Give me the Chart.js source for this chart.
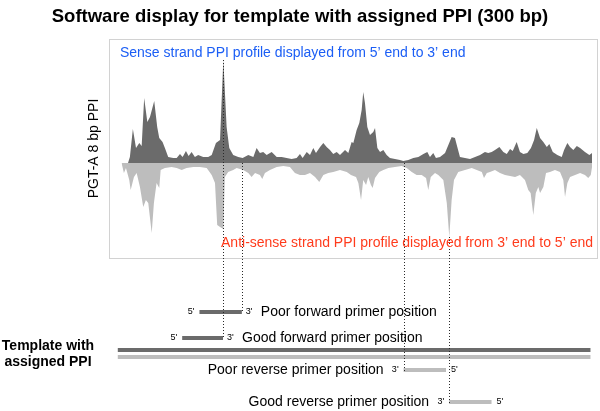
<!DOCTYPE html>
<html>
<head>
<meta charset="utf-8">
<script src="https://cdn.jsdelivr.net/npm/chart.js@4.4.1/dist/chart.umd.min.js"></script>
<style>
  html, body { margin: 0; padding: 0; background: #FFFFFF; }
  #wrap { width: 600px; height: 411px; }
</style>
</head>
<body>
<div id="wrap"><canvas id="chartPPI" width="600" height="411"></canvas></div>
<script>
/* ----------------------------------------------------------------------------
                                     DATA
---------------------------------------------------------------------------- */

// Sense strand PPI profile (position in bp, PPI) ------------------------------
var sensePos = [4.5, 5.7, 7.6, 9.6, 11.7, 13.2, 14.8, 16.8, 18.5, 21.2,
    23.1, 24.4, 26.5, 28.0, 30.1, 33.3, 35.5, 37.6, 39.3, 41.4,
    43.1, 45.0, 47.1, 49.2, 52.4, 55.6, 57.8, 60.5, 63.1, 65.2,
    67.3, 69.0, 71.5, 74.7, 77.5, 81.1, 84.3, 86.4, 88.5, 90.6,
    92.8, 96.0, 99.2, 102.4, 105.5, 108.7, 111.9, 114.0, 115.7, 118.3,
    120.4, 122.5, 124.2, 126.8, 128.9, 131.0, 133.1, 135.2, 137.4, 139.5,
    142.7, 144.8, 146.9, 148.0, 150.1, 151.8, 153.3, 154.3, 155.4, 156.9,
    158.6, 160.7, 161.8, 163.3, 165.0, 167.1, 169.2, 171.3, 174.5, 177.7,
    179.8, 183.0, 186.2, 189.4, 192.6, 195.1, 196.8, 198.9, 200.6, 203.2,
    206.4, 208.5, 210.6, 212.7, 214.2, 215.9, 219.1, 222.3, 225.5, 228.7,
    231.8, 233.9, 236.1, 238.2, 241.0, 243.5, 245.7, 247.8, 249.5, 252.0,
    254.1, 256.3, 258.8, 261.1, 263.1, 264.8, 266.9, 269.0, 271.2, 272.8,
    275.0, 277.9, 280.7, 282.2, 284.3, 286.0, 288.1, 290.3, 292.4, 295.5,
    298.3, 300];
var senseVal = [0, 6, 34, 15, 20, 17, 65, 41, 46, 62,
    36, 25, 21, 15, 6, 5, 5, 9, 6, 12,
    7, 11, 6, 8, 6, 6, 8, 20, 23, 103,
    36, 15, 8, 6, 5, 8, 6, 15, 10, 11,
    8, 11, 6, 6, 5, 4, 5, 9, 5, 11,
    8, 15, 10, 16, 20, 16, 13, 9, 11, 8,
    13, 10, 21, 20, 33, 40, 53, 71, 60, 36,
    28, 31, 35, 15, 11, 13, 8, 5, 4, 3,
    2, 3, 5, 6, 9, 11, 6, 10, 5, 6,
    10, 18, 26, 25, 16, 6, 5, 4, 6, 8,
    11, 10, 11, 13, 16, 11, 9, 14, 12, 21,
    11, 9, 10, 15, 23, 35, 25, 21, 16, 19,
    11, 8, 6, 13, 20, 16, 13, 17, 15, 11,
    8, 10];

// Anti-sense strand PPI profile (drawn downwards) ----------------------------
var antiPos = [0.4, 1.9, 3.2, 5.3, 6.2, 8.3, 10.0, 12.1, 14.2, 15.9,
    17.4, 19.6, 21.0, 22.7, 24.4, 25.3, 28.0, 32.3, 35.5, 38.7,
    41.8, 46.1, 50.3, 54.6, 57.8, 59.9, 61.3, 63.1, 65.2, 66.2,
    68.3, 71.5, 73.7, 77.9, 81.1, 83.2, 85.4, 88.5, 90.0, 91.7,
    94.9, 99.2, 103.4, 107.6, 110.8, 114.0, 117.2, 120.4, 123.6, 126.3,
    128.9, 132.0, 135.2, 139.5, 143.8, 146.5, 149.7, 151.2, 152.9, 154.3,
    156.1, 157.5, 159.2, 160.3, 161.8, 164.5, 167.1, 170.3, 174.5, 178.8,
    182.0, 185.2, 188.3, 191.5, 194.3, 195.7, 197.3, 200.0, 202.1, 205.3,
    207.5, 209.1, 210.6, 212.1, 214.8, 219.1, 223.4, 226.6, 229.8, 231.2,
    233.0, 235.0, 238.2, 241.4, 244.6, 247.8, 251.0, 254.1, 257.3, 259.4,
    260.9, 262.6, 264.2, 265.8, 266.9, 269.0, 270.7, 273.2, 276.4, 279.6,
    281.7, 282.8, 284.3, 286.0, 289.2, 292.4, 295.5, 297.6, 299.2, 300];
var antiVal = [0, 10, 5, 17, 27, 14, 10, 24, 44, 37,
    40, 70, 40, 20, 25, 7, 5, 4, 5, 7,
    5, 4, 4, 5, 12, 20, 62, 64, 66, 14,
    9, 7, 5, 7, 10, 14, 10, 12, 16, 10,
    7, 4, 3, 4, 10, 12, 12, 10, 14, 19,
    12, 10, 9, 7, 9, 12, 14, 20, 37, 17,
    22, 14, 22, 25, 15, 9, 7, 5, 4, 3,
    5, 9, 12, 12, 15, 27, 14, 10, 12, 17,
    40, 74, 37, 17, 9, 7, 5, 7, 9, 15,
    10, 9, 7, 10, 12, 13, 14, 12, 17, 27,
    30, 52, 30, 24, 30, 24, 10, 9, 7, 9,
    17, 34, 20, 14, 12, 10, 12, 15, 12, 4];

// Template and primers (bp) --------------------------------------------------
var templateSpan = [-2, 299];
var primerNames = Array('Poor forward primer position', 'Good forward primer position',
    'Poor reverse primer position', 'Good reverse primer position');
var primerStart = [50, 39, 180, 209];
var primerEnd = [77, 65, 207, 236];
var primerForward = [true, true, false, false];
// PPI level where the dotted guide to the primer's 3' end begins
var guideLevel = [0, 103, 0, -74];

/* ----------------------------------------------------------------------------
                                    LAYOUT
---------------------------------------------------------------------------- */

var colors = Array('#6b6b6b', '#bdbdbd', '#d2d2d2', '#1b5ef5', '#ff3b1c', '#000000', '#2a2a2a');
var fontFamily = '"Liberation Sans", Arial, Helvetica, sans-serif';
var boxBottom = -95;                 // lower edge of the profile frame (PPI units)
var primerLane = [-38, -12, 20, 52]; // lane offsets, template sense strand = 0
var templateLane = [0, 7];

/* ----------------------------------------------------------------------------
                                    MAIN
---------------------------------------------------------------------------- */

function xy(pos, val, sign) {
    var out = [];
    for (var i = 0; i < pos.length; i++) {
        out.push({ x: pos[i], y: sign * val[i] });
    }
    return out;
}

function segment(x0, x1, lane, color) {
    return {
        data: [{ x: x0, y: lane }, { x: x1, y: lane }],
        yAxisID: 'lane',
        borderColor: color,
        borderWidth: 4,
        borderCapStyle: 'butt',
        pointRadius: 0,
        fill: false
    };
}

var datasets = [
    {
        data: xy(sensePos, senseVal, 1),
        yAxisID: 'y',
        backgroundColor: colors[0],
        borderColor: colors[0],
        borderWidth: 0,
        pointRadius: 0,
        tension: 0,
        fill: 'origin'
    },
    {
        data: xy(antiPos, antiVal, -1),
        yAxisID: 'y',
        backgroundColor: colors[1],
        borderColor: colors[1],
        borderWidth: 0,
        pointRadius: 0,
        tension: 0,
        fill: 'origin'
    },
    segment(templateSpan[0], templateSpan[1], templateLane[0], colors[0]),
    segment(templateSpan[0], templateSpan[1], templateLane[1], colors[1])
];

for (var i = 0; i < primerNames.length; i++) {
    datasets.push(segment(primerStart[i], primerEnd[i], primerLane[i], primerForward[i] ? colors[0] : colors[1]));
}

function text(ctx, str, x, y, font, color, align) {
    ctx.font = font;
    ctx.fillStyle = color;
    ctx.textAlign = align;
    ctx.textBaseline = 'middle';
    ctx.fillText(str, x, y);
}

const annotations = {
    id: 'annotations',
    beforeDatasetsDraw(chart) {
        const ctx = chart.ctx;
        const area = chart.chartArea;
        const y = chart.scales.y;
        const bottom = Math.round(y.getPixelForValue(boxBottom)) + 0.5;
        const top = Math.round(area.top) + 0.5;
        ctx.save();
        ctx.strokeStyle = colors[2];
        ctx.lineWidth = 1;
        ctx.strokeRect(Math.round(area.left) + 0.5, top, Math.round(area.right - area.left) - 1, bottom - top);
        ctx.restore();
    },
    afterDatasetsDraw(chart) {
        const ctx = chart.ctx;
        const area = chart.chartArea;
        const x = chart.scales.x;
        const y = chart.scales.y;
        const lane = chart.scales.lane;
        ctx.save();

        // Dotted guides from the profile to each primer's 3' end
        ctx.strokeStyle = colors[6];
        ctx.lineWidth = 1;
        ctx.setLineDash([1, 2]);
        for (var i = 0; i < primerNames.length; i++) {
            var gx = Math.round(x.getPixelForValue(primerForward[i] ? primerEnd[i] : primerStart[i])) + 0.5;
            ctx.beginPath();
            ctx.moveTo(gx, y.getPixelForValue(guideLevel[i]));
            ctx.lineTo(gx, lane.getPixelForValue(primerLane[i]) + 1);
            ctx.stroke();
        }
        ctx.setLineDash([]);

        // Titles
        text(ctx, 'Software display for template with assigned PPI (300 bp)', 300, 17,
            'bold 18.5px ' + fontFamily, colors[5], 'center');
        text(ctx, 'Sense strand PPI profile displayed from 5\u2019 end to 3\u2019 end',
            x.getPixelForValue(0) - 1, 53, '14px ' + fontFamily, colors[3], 'left');
        text(ctx, 'Anti-sense strand PPI profile displayed from 3\u2019 end to 5\u2019 end',
            area.right - 5, 243, '14px ' + fontFamily, colors[4], 'right');

        ctx.save();
        ctx.translate(94, (area.top + y.getPixelForValue(boxBottom)) / 2);
        ctx.rotate(-Math.PI / 2);
        text(ctx, 'PGT-A 8 bp PPI', 0, 0, '14px ' + fontFamily, colors[5], 'center');
        ctx.restore();

        var ty = lane.getPixelForValue((templateLane[0] + templateLane[1]) / 2);
        text(ctx, 'Template with', 48, ty - 7, 'bold 14px ' + fontFamily, colors[5], 'center');
        text(ctx, 'assigned PPI', 48, ty + 9, 'bold 14px ' + fontFamily, colors[5], 'center');

        // Primer labels
        for (var j = 0; j < primerNames.length; j++) {
            var x0 = x.getPixelForValue(primerStart[j]);
            var x1 = x.getPixelForValue(primerEnd[j]);
            var py = lane.getPixelForValue(primerLane[j]);
            var small = '9px ' + fontFamily;
            if (primerForward[j]) {
                text(ctx, "5'", x0 - 5, py, small, colors[5], 'right');
                text(ctx, "3'", x1 + 4, py, small, colors[5], 'left');
                text(ctx, primerNames[j], x1 + 19, py, '14px ' + fontFamily, colors[5], 'left');
            } else {
                text(ctx, "3'", x0 - 5, py, small, colors[5], 'right');
                text(ctx, "5'", x1 + 5, py, small, colors[5], 'left');
                text(ctx, primerNames[j], x0 - 20, py, '14px ' + fontFamily, colors[5], 'right');
            }
        }
        ctx.restore();
    }
};

const ctx_ppi = document.getElementById('chartPPI').getContext('2d');
const chartPPI = new Chart(ctx_ppi, {
    type: 'line',
    data: { datasets: datasets },
    options: {
        responsive: false,
        animation: false,
        devicePixelRatio: 1,
        layout: {
            padding: { left: 109, right: 2, top: 39, bottom: 0 }
        },
        plugins: {
            legend: { display: false },
            tooltip: { enabled: false }
        },
        scales: {
            x: {
                type: 'linear',
                min: -7.6,
                max: 303.8,
                display: false
            },
            y: {
                type: 'linear',
                min: -248,
                max: 124,
                display: false
            },
            lane: {
                type: 'linear',
                position: 'left',
                reverse: true,
                min: -311,
                max: 61,
                display: false
            }
        }
    },
    plugins: [annotations]
});
</script>
</body>
</html>
